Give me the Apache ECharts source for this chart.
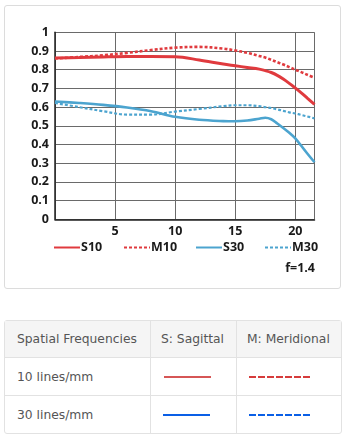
<!DOCTYPE html>
<html>
<head>
<meta charset="utf-8">
<script src="https://cdn.jsdelivr.net/npm/echarts@6/dist/echarts.min.js"></script>
<style>
  html, body { margin: 0; padding: 0; background: #fff; }
  body { width: 348px; height: 440px; position: relative; overflow: hidden; }
  #card {
    position: absolute; left: 4px; top: 5px; width: 337px; height: 284px;
    border: 1px solid #dcdcdc; border-radius: 3px; box-sizing: border-box;
  }
  #chart { position: absolute; left: 0; top: 0; width: 348px; height: 300px; }
  table {
    position: absolute; left: 4px; top: 320px; width: 338px;
    border-collapse: separate; border-spacing: 0;
    border: 1px solid #e2e2e2; border-radius: 3px;
    font-family: "DejaVu Sans", sans-serif; font-size: 12.3px; color: #555;
  }
  td, th { padding: 0 0 0 12px; text-align: left; font-weight: normal; white-space: nowrap; }
  th { background: #f5f5f5; height: 36px; }
  td { height: 37px; border-top: 1px solid #e2e2e2; }
  th + th, td + td { border-left: 1px solid #e2e2e2; }
  th.c2, th.c3 { padding-left: 10px; }
  svg { display: block; }
</style>
</head>
<body>
<div id="card"></div>
<div id="chart"></div>
<table>
  <tr><th style="width:133px">Spatial Frequencies</th><th class="c2" style="width:75px">S: Sagittal</th><th class="c3">M: Meridional</th></tr>
  <tr>
    <td>10 lines/mm</td>
    <td><svg width="60" height="6"><line x1="1" y1="3" x2="48" y2="3" stroke="#d65656" stroke-width="2.2"/></svg></td>
    <td><svg width="80" height="6"><line x1="0" y1="3" x2="63" y2="3" stroke="#d63c3c" stroke-width="2.2" stroke-dasharray="7 2"/></svg></td>
  </tr>
  <tr>
    <td>30 lines/mm</td>
    <td><svg width="60" height="6"><line x1="0" y1="3" x2="47" y2="3" stroke="#0a5fe6" stroke-width="2.2"/></svg></td>
    <td><svg width="80" height="6"><line x1="0" y1="3" x2="63" y2="3" stroke="#0a5fe6" stroke-width="2.2" stroke-dasharray="7 2"/></svg></td>
  </tr>
</table>
<script>
// Image height (mm) sample positions shared by all curves
const imageHeight = [0, 2, 4, 6, 8, 10, 12, 14, 15, 16, 17, 17.5, 18, 18.5, 19, 19.5, 20, 20.5, 21, 21.6];

// MTF contrast values
const s10 = [0.862, 0.865, 0.868, 0.870, 0.870, 0.869, 0.852, 0.830, 0.821, 0.812, 0.803, 0.795, 0.785, 0.770, 0.750, 0.727, 0.702, 0.676, 0.648, 0.615];
const m10 = [0.860, 0.868, 0.877, 0.890, 0.905, 0.918, 0.922, 0.913, 0.903, 0.890, 0.873, 0.865, 0.853, 0.840, 0.828, 0.814, 0.800, 0.787, 0.773, 0.757];
const s30 = [0.630, 0.622, 0.612, 0.598, 0.578, 0.548, 0.532, 0.525, 0.524, 0.528, 0.538, 0.543, 0.535, 0.512, 0.488, 0.463, 0.433, 0.393, 0.352, 0.305];
const m30 = [0.622, 0.600, 0.578, 0.560, 0.560, 0.576, 0.590, 0.605, 0.610, 0.610, 0.605, 0.600, 0.595, 0.588, 0.580, 0.572, 0.566, 0.558, 0.550, 0.540];

const seriesNames = ['S10', 'M10', 'S30', 'M30'];
const xTicks = [5, 10, 15, 20];
const apertureLabel = 'f=1.4';

const RED = '#e03a3e';
const BLUE = '#4ca4cf';
const FONT = '"Open Sans", sans-serif';

function pairs(vals) { return imageHeight.map((x, i) => [x, vals[i]]); }

const lineDefs = [
  { name: seriesNames[0], data: s10, color: RED, width: 3, type: 'solid' },
  { name: seriesNames[1], data: m10, color: RED, width: 2.6, type: [3, 2] },
  { name: seriesNames[2], data: s30, color: BLUE, width: 2.6, type: 'solid' },
  { name: seriesNames[3], data: m30, color: BLUE, width: 2.2, type: [3, 2] }
];

const legendLeft = [53, 123, 195, 264];

const chart = echarts.init(document.getElementById('chart'), null, { renderer: 'canvas' });
chart.setOption({
  animation: false,
  grid: { left: 55, right: 33.5, top: 32.3, bottom: 80.7 },
  xAxis: {
    type: 'value', min: 0, max: 21.6, interval: 5,
    axisLine: { lineStyle: { color: '#222', width: 1.5 } },
    axisTick: { show: false },
    splitLine: { show: true, lineStyle: { color: '#6a6a6a', width: 1 } },
    axisLabel: {
      margin: 6, color: '#1a1a1a', fontFamily: FONT, fontWeight: 'bold', fontSize: 12.5,
      formatter: v => (xTicks.indexOf(v) >= 0 ? String(v) : '')
    }
  },
  yAxis: {
    type: 'value', min: 0, max: 1, interval: 0.1,
    axisLine: { show: true, lineStyle: { color: '#222', width: 1.5 } },
    axisTick: { show: false },
    splitLine: { show: true, lineStyle: { color: '#6a6a6a', width: 1 } },
    axisLabel: {
      margin: 6, color: '#1a1a1a', fontFamily: FONT, fontWeight: 'bold', fontSize: 12.5,
      formatter: v => String(Math.round(v * 10) / 10)
    }
  },
  legend: lineDefs.map((d, i) => ({
    data: [d.name], left: legendLeft[i], top: 241, padding: 0,
    itemWidth: 26, itemHeight: 12, itemGap: 0,
    itemStyle: { opacity: 0 },
    textStyle: { color: '#1a1a1a', fontFamily: FONT, fontWeight: 'bold', fontSize: 12.5, padding: [0, 0, 0, -4] },
    selectedMode: false
  })),
  graphic: [{
    type: 'text', right: 33, top: 262,
    style: { text: apertureLabel, fill: '#1a1a1a', font: 'bold 12.5px ' + FONT }
  }],
  series: lineDefs.map(d => ({
    name: d.name, type: 'line', data: pairs(d.data),
    smooth: 0.35, symbol: 'none', showSymbol: false,
    lineStyle: { color: d.color, width: d.width, type: d.type },
    itemStyle: { color: d.color },
    clip: true
  }))
});
</script>
</body>
</html>
